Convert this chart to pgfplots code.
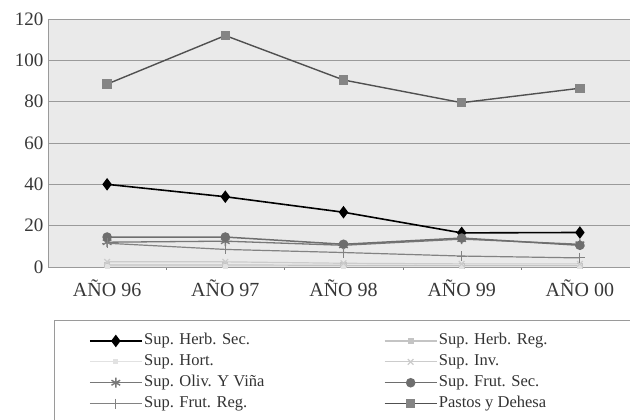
\documentclass[border=0pt]{standalone}
\usepackage{pgfplots}
\pgfplotsset{compat=1.18}
\usepackage{fontspec}
\setmainfont{Liberation Serif}

\definecolor{bgplot}{HTML}{EAEAEA}
\definecolor{gridc}{HTML}{9A9A9A}
\definecolor{pastos}{HTML}{505050}
\definecolor{pastosm}{HTML}{858585}
\definecolor{frutsec}{HTML}{6E6E6E}
\definecolor{oliv}{HTML}{787878}
\definecolor{frutreg}{HTML}{828282}
\definecolor{herbreg}{HTML}{C4C4C4}
\definecolor{inv}{HTML}{CCCCCC}
\definecolor{hort}{HTML}{E2E2E2}

\begin{document}
\begin{tikzpicture}[x=1pt,y=1pt]
\begin{axis}[
    at={(48pt,153pt)}, anchor=south west,
    scale only axis,
    width=591pt, height=248pt,
    xmin=0.5, xmax=5.5,
    ymin=0, ymax=120,
    xtick={1,2,3,4,5},
    xticklabels={AÑO 96,AÑO 97,AÑO 98,AÑO 99,AÑO 00},
    ytick={0,20,40,60,80,100,120},
    minor xtick={1.5,2.5,3.5,4.5},
    major tick length=0pt,
    minor tick length=3pt,
    tick align=outside,
    tick pos=left,
    ymajorgrids,
    grid style={gridc, line width=0.8pt},
    axis line style={gridc, line width=0.9pt},
    axis background/.style={fill=bgplot},
    /pgf/number format/assume math mode=true,
    ticklabel style={font=\fontsize{19}{22}\selectfont, text=black!78},
    yticklabel style={xshift=-1pt},
    xticklabel style={yshift=-9pt, font=\fontsize{20}{23}\selectfont},
    legend columns=2,
    legend cell align=left,
    legend style={
        at={(0.064,-0.252)}, anchor=north west,
        draw=none, fill=none,
        font=\fontsize{16.5}{19}\selectfont,
        text=black!80,
        row sep=2.4pt,
        nodes={inner sep=1.5pt, text height=11.5pt, text depth=4pt},
        /tikz/every even column/.append style={column sep=118pt},
    },
    legend image code/.code={
        \draw[mark repeat=2,mark phase=2,#1]
            plot coordinates {(0pt,0pt) (26pt,0pt) (52pt,0pt)};
    },
]
% Sup. Herb. Sec.
\addplot[black, line width=1.6pt, mark=diamond*, mark size=5pt]
    coordinates {(1,40) (2,34) (3,26.5) (4,16.5) (5,16.7)};
\addlegendentry{Sup. Herb. Sec.}
% Sup. Herb. Reg.
\addplot[herbreg, line width=1.2pt, mark=square*, mark size=2.5pt]
    coordinates {(1,1.0) (2,1.0) (3,0.8) (4,0.6) (5,0.6)};
\addlegendentry{Sup. Herb. Reg.}
% Sup. Hort.
\addplot[hort, line width=1pt, mark=square*, mark size=2pt]
    coordinates {(1,0.3) (2,0.3) (3,0.3) (4,0.3) (5,0.3)};
\addlegendentry{Sup. Hort.}
% Sup. Inv.
\addplot[inv, line width=1.2pt, mark=x, mark size=4pt]
    coordinates {(1,2.5) (2,2.5) (3,1.8) (4,1.5) (5,1.5)};
\addlegendentry{Sup. Inv.}
% Sup. Oliv. Y Viña
\addplot[oliv, line width=1.3pt, mark=asterisk, mark size=5pt, mark options={line width=1.4pt}]
    coordinates {(1,12) (2,12.5) (3,10.5) (4,13.5) (5,11)};
\addlegendentry{Sup. Oliv. Y Viña}
% Sup. Frut. Sec.
\addplot[frutsec, line width=1.5pt, mark=*, mark size=4pt]
    coordinates {(1,14.5) (2,14.5) (3,11) (4,14) (5,10.5)};
\addlegendentry{Sup. Frut. Sec.}
% Sup. Frut. Reg.
\addplot[frutreg, line width=1.2pt, mark=+, mark size=5pt, mark options={line width=1pt}]
    coordinates {(1,11.5) (2,8.5) (3,7) (4,5.3) (5,4.4)};
\addlegendentry{Sup. Frut. Reg.}
% Pastos y Dehesa
\addplot[pastos, line width=1.4pt, mark=square*, mark size=4pt, mark options={fill=pastosm, draw=pastosm}]
    coordinates {(1,88.5) (2,112) (3,90.5) (4,79.5) (5,86.5)};
\addlegendentry{Pastos y Dehesa}
\end{axis}
\draw[gridc, line width=0.9pt] (54pt,-20pt) rectangle (660pt,100pt);
\pgfresetboundingbox
\useasboundingbox (0,0) rectangle (630pt,420pt);
\end{tikzpicture}
\end{document}
